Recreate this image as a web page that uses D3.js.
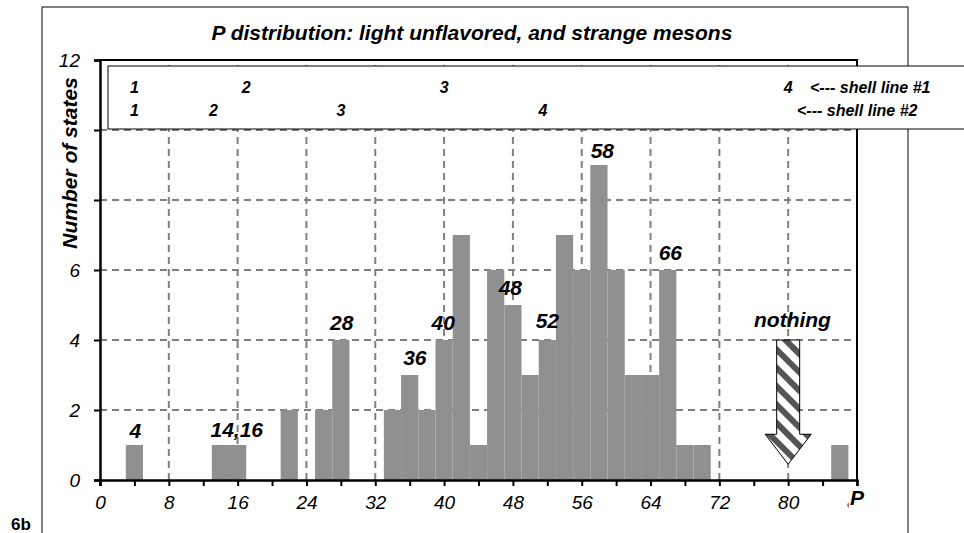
<!DOCTYPE html>
<html lang="en">
<head>
<meta charset="UTF-8">
<title>P distribution: light unflavored, and strange mesons</title>
<script src="https://d3js.org/d3.v7.min.js"></script>
<style>
  body { margin: 0; background: #fff; }
  svg { display: block; font-family: "Liberation Sans", Arial, sans-serif; }
  .grid line { stroke: #808080; stroke-width: 2; stroke-dasharray: 7,5; }
  .lbl { font-weight: bold; font-style: italic; font-size: 21px; fill: #000; }
  .tick-lbl { font-style: italic; font-size: 19px; fill: #000; }
  .shell { font-weight: bold; font-style: italic; font-size: 16px; fill: #000; }
</style>
</head>
<body>
<svg id="chart" width="964" height="533"></svg>
<script>
// bar centres (P, each bar 2 units wide) and number of states
const pValues = [4, 14, 16, 22, 26, 28, 34, 36, 38, 40, 42, 44, 46, 48, 50, 52, 54, 56, 58, 60, 62, 64, 66, 68, 70, 86];
const counts  = [1, 1, 1, 2, 2, 4, 2, 3, 2, 4, 7, 1, 6, 5, 3, 4, 7, 6, 9, 6, 3, 3, 6, 1, 1, 1];

// bold labels above peaks: text, P position, height in states (baseline)
const peakText = ["4", "14,16", "28", "36", "40", "48", "52", "58", "66"];
const peakP    = [4.1, 15.9, 28.1, 36.6, 39.9, 47.7, 52, 58.4, 66.3];
const peakY    = [1.2, 1.23, 4.29, 3.29, 4.29, 5.29, 4.34, 9.2, 6.29];

// shell line markers in the box at the top
const shellNums = ["1", "2", "3", "4"];
const shell1P   = [4, 17, 40, 80];
const shell2P   = [4, 13.2, 28, 51.5];

// "nothing" arrow at P = 80
const nothingP = 80;
const nothingTop = 4;
const nothingTip = 0.45;

const yTicks = [0, 2, 4, 6, 8, 10, 12];
const xTicks = d3.range(0, 89, 4);

const svg = d3.select("#chart");
const x = d3.scaleLinear().domain([0, 88]).range([100, 857]);
const y = d3.scaleLinear().domain([0, 12]).range([480, 60]);

// outer frame
svg.append("rect")
  .attr("x", 42).attr("y", 7).attr("width", 866).attr("height", 560)
  .attr("fill", "#fff").attr("stroke", "#000").attr("stroke-width", 1);

svg.append("text").attr("x", 11).attr("y", 530)
  .attr("font-weight", "bold").attr("font-size", 17).text("6b");

// title
svg.append("text").attr("class", "lbl")
  .attr("x", 472).attr("y", 40).attr("text-anchor", "middle")
  .text("P distribution: light unflavored, and strange mesons");

// grid
const grid = svg.append("g").attr("class", "grid");
grid.selectAll(".h").data(yTicks.filter(d => d > 0 && d < 12)).enter().append("line")
  .attr("x1", x(0)).attr("x2", x(88))
  .attr("y1", d => y(d)).attr("y2", d => y(d));
grid.selectAll(".v").data(d3.range(8, 88, 8)).enter().append("line")
  .attr("x1", d => x(d)).attr("x2", d => x(d))
  .attr("y1", y(0)).attr("y2", y(12));

// bars
const bars = pValues.map((p, i) => ({ p, n: counts[i] }));
svg.append("g").selectAll("rect").data(bars).enter().append("rect")
  .attr("x", d => x(d.p - 1))
  .attr("width", d => x(d.p + 1) - x(d.p - 1))
  .attr("y", d => y(d.n))
  .attr("height", d => y(0) - y(d.n))
  .attr("fill", "#909090");

// plot border top/right
svg.append("path")
  .attr("d", `M${x(0)},${y(12)}H${x(88)}V${y(0)}`)
  .attr("fill", "none").attr("stroke", "#000").attr("stroke-width", 2);

// axes
const xAxis = svg.append("g").attr("transform", `translate(0,${y(0)})`)
  .call(d3.axisBottom(x).tickValues(xTicks).tickSize(6).tickFormat(d => d % 8 === 0 ? d : ""));
xAxis.select(".domain").attr("stroke-width", 2.5);
xAxis.selectAll(".tick line").attr("stroke-width", 2);
xAxis.selectAll(".tick text").attr("class", "tick-lbl").attr("dy", "1.05em");
// the last label sits under the axis title "P"; only its left edge shows
svg.append("clipPath").attr("id", "clip88")
  .append("rect").attr("x", -40).attr("y", 0).attr("width", 31).attr("height", 40);
xAxis.selectAll(".tick").filter(d => d === 88).select("text")
  .attr("clip-path", "url(#clip88)");

const yAxis = svg.append("g").attr("transform", `translate(${x(0)},0)`)
  .call(d3.axisLeft(y).tickValues(yTicks).tickSize(6).tickPadding(14));
yAxis.select(".domain").attr("stroke-width", 2.5);
yAxis.selectAll(".tick line").attr("stroke-width", 2);
yAxis.selectAll(".tick text").attr("class", "tick-lbl");

// axis titles (the y title hides the 8 and 10 labels, as in the original)
svg.append("rect").attr("x", 56).attr("y", 72).attr("width", 26).attr("height", 182).attr("fill", "#fff");
svg.append("text").attr("class", "lbl")
  .attr("transform", "translate(77,163) rotate(-90)")
  .attr("text-anchor", "middle").text("Number of states");
svg.append("rect").attr("x", 849).attr("y", 488).attr("width", 20).attr("height", 22).attr("fill", "#fff");
svg.append("text").attr("class", "lbl").attr("x", 850).attr("y", 505)
  .attr("font-size", 19).text("P");

// shell line box
svg.append("rect")
  .attr("x", 108).attr("y", 66).attr("width", 900).attr("height", 63)
  .attr("fill", "#fff").attr("stroke", "#000").attr("stroke-width", 1);
const shellRows = [
  { ps: shell1P, yy: 93, note: "<--- shell line #1", nx: 810 },
  { ps: shell2P, yy: 116, note: "<--- shell line #2", nx: 797 }
];
shellRows.forEach(r => {
  svg.append("g").selectAll("text").data(r.ps).enter().append("text")
    .attr("class", "shell").attr("text-anchor", "middle")
    .attr("x", d => x(d)).attr("y", r.yy)
    .text((d, i) => shellNums[i]);
  svg.append("text").attr("class", "shell").attr("x", r.nx).attr("y", r.yy).text(r.note);
});

// peak labels
svg.append("g").selectAll("text").data(peakText).enter().append("text")
  .attr("class", "lbl").attr("text-anchor", "middle")
  .attr("x", (d, i) => x(peakP[i])).attr("y", (d, i) => y(peakY[i]))
  .text(d => d);

// hatched arrow: "nothing"
const defs = svg.append("defs");
const pat = defs.append("pattern").attr("id", "hatch")
  .attr("patternUnits", "userSpaceOnUse").attr("width", 13).attr("height", 13)
  .attr("patternTransform", "rotate(-45)");
pat.append("rect").attr("width", 13).attr("height", 13).attr("fill", "#fff");
pat.append("rect").attr("width", 6).attr("height", 13).attr("fill", "#555");

const ax = x(nothingP), shaftW = 11.5, headW = 23;
const headTop = y(nothingTip) - 30;
svg.append("path")
  .attr("d", `M${ax - shaftW},${y(nothingTop)}H${ax + shaftW}V${headTop}H${ax + headW}` +
             `L${ax},${y(nothingTip)}L${ax - headW},${headTop}H${ax - shaftW}Z`)
  .attr("fill", "url(#hatch)").attr("stroke", "#000").attr("stroke-width", 1);
svg.append("text").attr("class", "lbl").attr("text-anchor", "middle")
  .attr("x", x(80.5)).attr("y", y(4.37)).text("nothing");
</script>
</body>
</html>
